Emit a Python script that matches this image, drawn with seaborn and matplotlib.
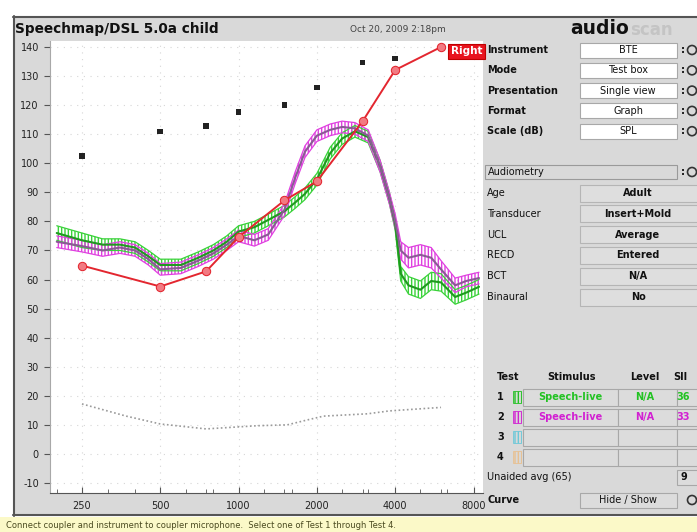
import matplotlib
matplotlib.use("Agg")
import matplotlib.pyplot as plt
import seaborn as sns
from matplotlib.patches import Rectangle, Circle

# speech test curves (dB SPL)
freqs = [200, 250, 300, 350, 400, 450, 500, 600, 700, 800, 900, 1000, 1150, 1300,
         1500, 1650, 1800, 2000, 2250, 2500, 2800, 3150, 3500, 3800, 4000, 4200,
         4500, 5000, 5500, 6000, 6800, 7500, 8400]
green_avg = [76, 73.5, 72, 72, 71, 68, 65, 65, 67.5, 70, 73, 76.5, 78, 80.5,
             83.5, 86.5, 89.5, 94.5, 103.5, 108.5, 111, 109, 99, 88, 79, 62,
             58, 56.5, 59.5, 59, 54, 55.5, 57.5]
green_spread = [2.5, 2.5, 2, 2, 2, 2, 2, 2, 2, 2, 2, 2, 2, 2,
                2, 2, 2, 2, 2, 2, 2, 2, 2, 2, 2, 2.5,
                3, 3, 3, 3, 2.5, 2.5, 2.5]
magenta_avg = [73, 71.5, 70, 71, 70, 67, 63.5, 64, 66.5, 69, 72, 75, 73.5, 75.5,
               84, 95, 104, 109.5, 111.5, 112.5, 112, 109.5, 99, 88, 80, 70,
               67.5, 68.5, 67.5, 63.5, 58, 59.5, 60.5]
magenta_spread = [2, 2, 2, 2, 2, 2, 2, 2, 2, 2, 2, 2, 2, 2,
                  2, 2, 2, 2, 2, 2, 2, 2, 2, 2, 2.5, 3,
                  3.5, 3.5, 3.5, 3, 2.5, 2, 2]

# hearing threshold (red) and UCL (black squares)
thr_freqs = [250, 500, 750, 1000, 1500, 2000, 3000, 4000, 6000]
thr_spl = [64.8, 57.6, 62.8, 74.6, 87.2, 93.8, 114.5, 132.1, 140]
ucl_freqs = [250, 500, 750, 1000, 1500, 2000, 3000, 4000]
ucl_spl = [102.5, 111, 112.8, 117.7, 120, 126.1, 134.7, 136.1]

# noise floor (gray dotted)
noise_freqs = [250, 370, 500, 750, 1180, 1540, 1840, 2120, 3130, 3800, 6000]
noise_spl = [17.2, 13, 10.3, 8.6, 9.7, 10, 11.7, 13, 13.8, 14.8, 16]

x_major = [250, 500, 1000, 2000, 4000, 8000]
x_minor = [200, 315, 400, 630, 750, 800, 1250, 1500, 1600, 2500, 3000, 3150, 5000, 6000, 6300]
y_ticks = list(range(-10, 141, 10))

W, H = 697, 532
GRAY = '#d9d9d9'
sns.set_style("white")
plt.rcParams['font.family'] = ['DejaVu Sans']

fig = plt.figure(figsize=(W / 100, H / 100), dpi=100)
bg = fig.add_axes([0, 0, 1, 1])
bg.set_xlim(0, W)
bg.set_ylim(H, 0)
bg.axis('off')

# window chrome
bg.add_patch(Rectangle((13, 16), W - 13, 500, facecolor=GRAY, edgecolor='none'))
bg.plot([13, W], [16.5, 16.5], color='#555555', lw=1.5)
bg.plot([13.5, 13.5], [16, 516], color='#555555', lw=1.5)
bg.plot([13, W], [515, 515], color='#555555', lw=1.5)
bg.add_patch(Rectangle((0, 516.5), W, 16, facecolor='#fbf9c8', edgecolor='none'))
bg.text(6, 525, 'Connect coupler and instrument to coupler microphone.  Select one of Test 1 through Test 4.',
        fontsize=6.0, color='#4a4a20', va='center', ha='left')

bg.text(15, 29, 'Speechmap/DSL 5.0a child', fontsize=9.8, fontweight='bold', va='center', color='#111111')
bg.text(350, 30, 'Oct 20, 2009 2:18pm', fontsize=6.5, va='center', color='#444444')
bg.text(570, 29, 'audio', fontsize=13.5, fontweight='bold', va='center', color='#111111')
bg.text(630, 30, 'scan', fontsize=12, fontweight='bold', va='center', color='#c4c4c4')

# right panel
def label(x, y, s, bold=False, color='#111111', ha='left', size=7):
    bg.text(x, y, s, fontsize=size, fontweight='bold' if bold else 'normal',
            color=color, ha=ha, va='center')

def box(x0, x1, y, face, edge='#a8a8a8', h=15):
    bg.add_patch(Rectangle((x0, y - h / 2), x1 - x0, h, facecolor=face, edgecolor=edge, lw=0.8))

def knob(y):
    label(681, y, ':', bold=True)
    bg.add_patch(Circle((692, y), 4.5, facecolor='none', edgecolor='#333333', lw=1.2))

settings = [('Instrument', 'BTE'), ('Mode', 'Test box'), ('Presentation', 'Single view'),
            ('Format', 'Graph'), ('Scale (dB)', 'SPL')]
for i, (k, v) in enumerate(settings):
    y = 50 + i * 20.3
    label(487, y, k, bold=True)
    box(580, 677, y, 'white')
    label(628, y, v, ha='center')
    knob(y)

box(485, 677, 172, GRAY, edge='#9a9a9a', h=14)
label(488, 172, 'Audiometry')
knob(172)
audiometry = [('Age', 'Adult'), ('Transducer', 'Insert+Mold'), ('UCL', 'Average'),
              ('RECD', 'Entered'), ('BCT', 'N/A'), ('Binaural', 'No')]
for i, (k, v) in enumerate(audiometry):
    y = 193 + i * 20.8
    label(487, y, k)
    box(580, 699, y, '#dedede', edge='#b5b5b5', h=17)
    label(638, y, v, bold=True, ha='center')

label(497, 377, 'Test', bold=True)
label(571, 377, 'Stimulus', bold=True, ha='center')
label(645, 377, 'Level', bold=True, ha='center')
label(680, 377, 'SII', bold=True, ha='center')
tests = [('1', '#22c322', 'Speech-live', 'N/A', '36'),
         ('2', '#d21fd2', 'Speech-live', 'N/A', '33'),
         ('3', '#6cc8d8', '', '', ''),
         ('4', '#e8c090', '', '', '')]
for i, (n, c, stim, lev, sii) in enumerate(tests):
    y = 397 + i * 20
    label(497, y, n, bold=True)
    bg.add_patch(Rectangle((513, y - 6), 8, 12, facecolor='none', edgecolor=c, hatch='|||||', lw=0.6))
    box(523, 618, y, '#dcdcdc', h=17)
    box(618, 677, y, '#dcdcdc', h=17)
    box(677, 699, y, '#dcdcdc', h=17)
    label(570, y, stim, bold=True, color=c, ha='center')
    label(645, y, lev, bold=True, color=c, ha='center')
    label(683, y, sii, bold=True, color=c, ha='center')
label(487, 477, 'Unaided avg (65)')
box(677, 699, 477, '#dcdcdc', h=15)
label(684, 477, '9', bold=True, ha='center')
label(488, 500, 'Curve', bold=True)
box(580, 677, 500, '#dcdcdc', h=15)
label(628, 500, 'Hide / Show', ha='center')
bg.add_patch(Circle((692, 500), 4.5, facecolor='none', edgecolor='#333333', lw=1.2))

# plot area
ax = fig.add_axes([50 / W, (H - 493) / H, 433 / W, 452 / H])
ax.set_facecolor('white')
ax.set_xscale('log')

for avg, spread, band_c, mid_c in [(green_avg, green_spread, '#3ad23a', '#1f9a1f'),
                                   (magenta_avg, magenta_spread, '#e040e0', '#8a5a94')]:
    lo = [a - s for a, s in zip(avg, spread)]
    hi = [a + s for a, s in zip(avg, spread)]
    ax.fill_between(freqs, lo, hi, facecolor='none', edgecolor=band_c, hatch='|||||', lw=0, zorder=2)
    sns.lineplot(x=freqs, y=lo, ax=ax, color=band_c, lw=0.9, zorder=3)
    sns.lineplot(x=freqs, y=hi, ax=ax, color=band_c, lw=0.9, zorder=3)
    sns.lineplot(x=freqs, y=avg, ax=ax, color=mid_c, lw=1.5, zorder=4)

sns.lineplot(x=noise_freqs, y=noise_spl, ax=ax, color='#9a9a9a', lw=1.2,
             linestyle=(0, (1, 1.5)), zorder=3)
sns.lineplot(x=thr_freqs, y=thr_spl, ax=ax, color='#e3262f', lw=1.4, marker='o',
             markersize=6, markerfacecolor='#f27a82', markeredgecolor='#e3262f', zorder=5)
sns.scatterplot(x=ucl_freqs, y=ucl_spl, ax=ax, marker='s', s=16, color='#222222',
                edgecolor='none', zorder=6)

ax.text(0.998, 0.988, 'Right', transform=ax.transAxes, ha='right', va='top', fontsize=7.5,
        fontweight='bold', color='white', zorder=8,
        bbox=dict(boxstyle='square,pad=0.25', facecolor='#e8141e', edgecolor='#c00000', lw=0.8))

ax.set_xlim(188.4, 8700)
ax.set_ylim(-13.45, 142.07)
ax.set_xticks(x_major)
ax.set_xticklabels([str(v) for v in x_major])
ax.set_xticks(x_minor, minor=True)
ax.set_xticklabels([], minor=True)
ax.set_yticks(y_ticks)
ax.set_yticklabels([str(v) for v in y_ticks])
ax.set_xlabel('')
ax.set_ylabel('')
ax.grid(True, which='major', color='#d6d6d6', ls=(0, (1, 5)), lw=0.8)
ax.tick_params(axis='x', which='both', direction='in', length=4, color='#555555',
               labelsize=7, labelcolor='#222222', pad=6, bottom=True)
ax.tick_params(axis='x', which='minor', length=3)
ax.tick_params(axis='y', direction='out', length=4, color='#555555', labelsize=7,
               labelcolor='#222222', pad=4, left=True)
for side in ['top', 'right']:
    ax.spines[side].set_visible(False)
ax.spines['bottom'].set_color('#555555')
ax.spines['left'].set_color('#a8a8a8')
ax.spines['left'].set_linewidth(0.8)

fig.savefig('out.png', dpi=100)
